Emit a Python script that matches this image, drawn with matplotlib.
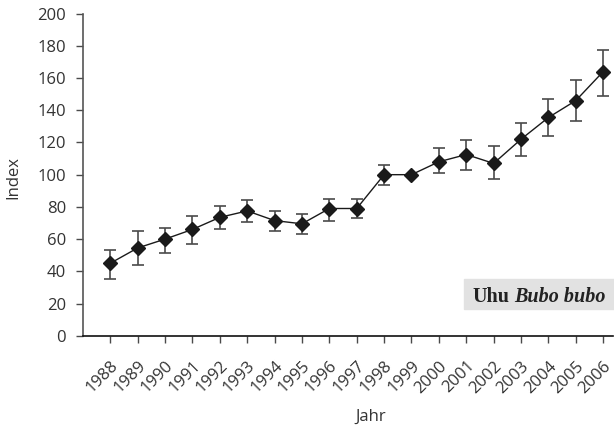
import matplotlib.pyplot as plt

years = list(range(1988, 2007))
index = [45, 54.5, 60, 66, 73.5, 77.5, 71.5, 69.5, 79, 79, 100, 100,
         108, 112.5, 107, 122, 135.5, 146, 164]
err_hi = [53.5, 65, 67, 74.5, 80.5, 84, 77.5, 75.5, 85, 85, 106, 100,
          116.5, 121.5, 117.5, 132, 147, 158.5, 177.5]
err_lo = [35.5, 44, 51.5, 57, 66, 70.5, 65, 63, 71.5, 73, 93.5, 100,
          101, 103, 97.5, 111.5, 124, 133.5, 149]

plt.rcParams['font.family'] = ['Open Sans', 'DejaVu Sans']

fig = plt.figure(figsize=(6.14, 4.25), dpi=100)
ax = fig.add_axes([0.135, 0.21, 0.863, 0.758])

lower = [v - lo for v, lo in zip(index, err_lo)]
upper = [hi - v for v, hi in zip(index, err_hi)]
ax.errorbar(years, index, yerr=[lower, upper], fmt='none', ecolor='#4a4a4a',
            elinewidth=1.2, capsize=4.5, capthick=1.2, zorder=2)
ax.plot(years, index, color='#1a1a1a', lw=1, marker='D', ms=7.5,
        mfc='#1a1a1a', mec='#1a1a1a', zorder=3)

ax.set_xlim(1987, 2006.35)
ax.set_ylim(0, 200)
ax.set_yticks(range(0, 201, 20))
ax.set_xticks(years)
ax.set_xticklabels([str(y) for y in years], rotation=45, ha='right',
                   rotation_mode='anchor')
ax.tick_params(axis='both', labelsize=12, labelcolor='#333333',
               color='#4a4a4a', length=5, width=1)
ax.tick_params(axis='x', pad=11)
ax.tick_params(axis='y', pad=7)

for side in ('top', 'right'):
    ax.spines[side].set_visible(False)
ax.spines['left'].set_color('#555555')
ax.spines['bottom'].set_color('#111111')
ax.spines['left'].set_linewidth(1.2)
ax.spines['bottom'].set_linewidth(1.2)

ax.set_ylabel('Index', fontsize=12, color='#333333', va='center')
ax.set_xlabel('Jahr', fontsize=12, color='#333333', va='center')
ax.yaxis.set_label_coords(-0.132, 0.49)
ax.xaxis.set_label_coords(0.543, -0.253)

# species label in grey box
fig.patches.append(plt.Rectangle((464 / 614, 1 - 309 / 425), 150 / 614, 30 / 425,
                                 transform=fig.transFigure, color='#e2e2e2',
                                 zorder=0))
serif = ['Liberation Serif', 'DejaVu Serif']
t1 = fig.text(472 / 614, 1 - 302 / 425, 'Uhu', fontsize=14.5, fontweight='bold',
              family=serif, va='baseline', ha='left', color='#222222')
fig.canvas.draw()
x_end = fig.transFigure.inverted().transform(
    t1.get_window_extent().get_points())[1, 0]
fig.text(x_end + 5 / 614, 1 - 302 / 425, 'Bubo bubo', fontsize=14.5,
         fontweight='bold', fontstyle='italic', family=serif,
         va='baseline', ha='left', color='#222222')

fig.savefig('out.png', dpi=100)
